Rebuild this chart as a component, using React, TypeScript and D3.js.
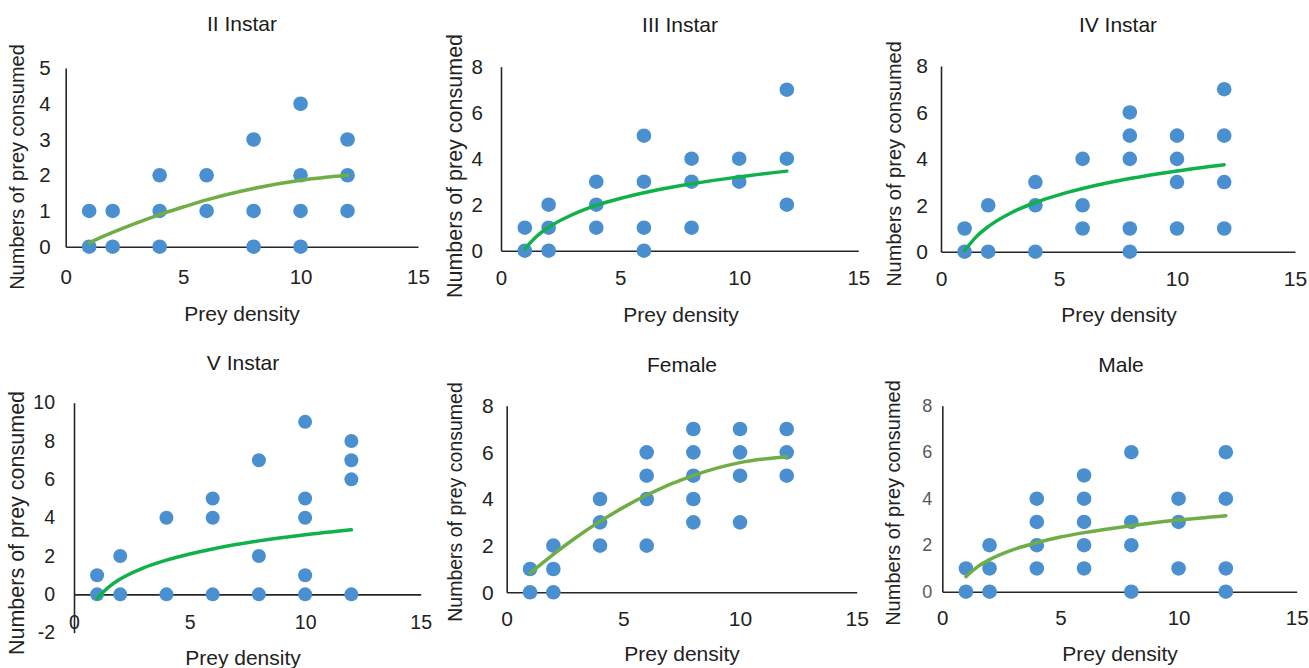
import React, { useEffect, useRef } from 'react';
import * as d3 from 'd3';

// prey offered per replicate group
const densities = [1, 2, 4, 6, 8, 10, 12];

// prey consumed, one inner list per density (distinct values visible)
const instar2 = [[1, 0], [1, 0], [2, 1, 0], [2, 1], [3, 1, 0], [4, 2, 1, 0], [3, 2, 1]];
const instar3 = [[1, 0], [2, 1, 0], [3, 2, 1], [5, 3, 1, 0], [4, 3, 1], [4, 3], [7, 4, 2]];
const instar4 = [[1, 0], [2, 0], [3, 2, 0], [4, 2, 1], [6, 5, 4, 1, 0], [5, 4, 3, 1], [7, 5, 3, 1]];
const instar5 = [[1, 0], [2, 0], [4, 0], [5, 4, 0], [7, 2, 0], [9, 5, 4, 1, 0], [8, 7, 6, 0]];
const female = [[1, 0], [2, 1, 0], [4, 3, 2], [6, 5, 4, 2], [7, 6, 5, 4, 3], [7, 6, 5, 3], [7, 6, 5]];
const male = [[1, 0], [2, 1, 0], [4, 3, 2, 1], [5, 4, 3, 2, 1], [6, 3, 2, 0], [4, 3, 1], [6, 4, 1, 0]];

// trend line
const trendX = [1, 1.5, 2, 3, 4, 5, 6, 8, 10, 12];
const trend2 = [0.11, 0.26, 0.4, 0.66, 0.9, 1.11, 1.31, 1.63, 1.86, 2.0];
const trend3 = [0.08, 0.63, 1.02, 1.57, 1.97, 2.27, 2.52, 2.91, 3.21, 3.46];
const trend4 = [0.05, 0.65, 1.08, 1.69, 2.12, 2.45, 2.72, 3.15, 3.48, 3.75];
const trend5 = [-0.2, 0.38, 0.8, 1.38, 1.79, 2.11, 2.37, 2.79, 3.11, 3.37];
const trendF = [0.81, 1.23, 1.63, 2.37, 3.04, 3.64, 4.17, 5.01, 5.56, 5.81];
const trendM = [0.65, 1.08, 1.38, 1.81, 2.11, 2.35, 2.54, 2.84, 3.08, 3.27];

const titles = ['II Instar', 'III Instar', 'IV Instar', 'V Instar', 'Female', 'Male'];
const xTicks = [0, 5, 10, 15];
const yTicks5 = [0, 1, 2, 3, 4, 5];
const yTicks8 = [0, 2, 4, 6, 8];
const yTicks10 = [-2, 0, 2, 4, 6, 8, 10];

const BLUE = '#4a90d0';
const LIGHT_GREEN = '#6fae45';
const GREEN = '#10b14b';
const FONT = '"Liberation Sans", Arial, sans-serif';

const panels = [
  { title: titles[0], data: instar2, trend: trend2, green: LIGHT_GREEN, yDomain: [0, 5], yTicks: yTicks5,
    x0: 65.7, x1: 418, yBot: 246.7, yTop: 68, titleX: 242, titleY: 23, xtX: 242, xtY: 313, ytX: 17, ytY: 167, ytSize: 20,
    tick: 20.5, yTickColor: '#222', yTickGap: 15, xTickOff: 30, r: 7.3 },
  { title: titles[1], data: instar3, trend: trend3, green: GREEN, yDomain: [0, 8], yTicks: yTicks8,
    x0: 501, x1: 858.3, yBot: 250.7, yTop: 66.7, titleX: 680, titleY: 24, xtX: 681, xtY: 314, ytX: 455, ytY: 166, ytSize: 21.5,
    tick: 20.5, yTickColor: '#222', yTickGap: 18, xTickOff: 27.5, r: 7.3 },
  { title: titles[2], data: instar4, trend: trend4, green: GREEN, yDomain: [0, 8], yTicks: yTicks8,
    x0: 941, x1: 1295, yBot: 251.7, yTop: 66, titleX: 1118, titleY: 24, xtX: 1119, xtY: 314, ytX: 894, ytY: 164, ytSize: 20,
    tick: 21, yTickColor: '#222', yTickGap: 13, xTickOff: 27, r: 7.3 },
  { title: titles[3], data: instar5, trend: trend5, green: GREEN, yDomain: [-2, 10], yTicks: yTicks10,
    x0: 74, x1: 420.7, yBot: 632.7, yTop: 402.7, titleX: 243, titleY: 362, xtX: 243, xtY: 657, ytX: 17, ytY: 523, ytSize: 21.5,
    tick: 19.5, yTickColor: '#222', yTickGap: 19, xTickOff: 28, r: 7 },
  { title: titles[4], data: female, trend: trendF, green: LIGHT_GREEN, yDomain: [0, 8], yTicks: yTicks8,
    x0: 506.7, x1: 856.7, yBot: 592.3, yTop: 405.7, titleX: 682, titleY: 364, xtX: 682, xtY: 653, ytX: 455, ytY: 502, ytSize: 19.5,
    tick: 21, yTickColor: '#222', yTickGap: 13, xTickOff: 26, r: 7.3 },
  { title: titles[5], data: male, trend: trendM, green: LIGHT_GREEN, yDomain: [0, 8], yTicks: yTicks8,
    x0: 942.3, x1: 1296.7, yBot: 591.7, yTop: 405.7, titleX: 1121, titleY: 364, xtX: 1120, xtY: 653, ytX: 893, ytY: 503, ytSize: 20,
    tick: 20.5, yTick: 18, yTickColor: '#595959', yTickGap: 10, xTickOff: 26.5, r: 7.3 },
];

function Panel({ p }) {
  const ref = useRef(null);

  useEffect(() => {
    const g = d3.select(ref.current);
    g.selectAll('*').remove();

    const x = d3.scaleLinear().domain([0, 15]).range([p.x0, p.x1]);
    const y = d3.scaleLinear().domain(p.yDomain).range([p.yBot, p.yTop]);
    const fmt = (d) => String(d);

    // x axis sits at y = 0
    const xAxis = g
      .append('g')
      .attr('transform', `translate(0,${y(0)})`)
      .call(d3.axisBottom(x).tickValues(xTicks).tickFormat(fmt).tickSize(0).tickSizeOuter(0));
    xAxis.select('.domain').attr('stroke', '#262626').attr('stroke-width', 1.6);
    xAxis
      .selectAll('text')
      .attr('y', p.xTickOff)
      .attr('dy', '0.35em')
      .attr('font-family', FONT)
      .attr('font-size', p.tick)
      .attr('fill', '#222');

    const yAxis = g
      .append('g')
      .attr('transform', `translate(${p.x0},0)`)
      .call(d3.axisLeft(y).tickValues(p.yTicks).tickFormat(fmt).tickSize(0).tickSizeOuter(0).tickPadding(p.yTickGap));
    yAxis.select('.domain').attr('stroke', '#262626').attr('stroke-width', 1.6);
    yAxis
      .selectAll('text')
      .attr('font-family', FONT)
      .attr('font-size', p.yTick || p.tick)
      .attr('fill', p.yTickColor);

    const pts = [];
    p.data.forEach((vals, i) => vals.forEach((v) => pts.push([densities[i], v])));

    g.append('g')
      .selectAll('circle')
      .data(pts)
      .join('circle')
      .attr('cx', (d) => x(d[0]))
      .attr('cy', (d) => y(d[1]))
      .attr('r', p.r)
      .attr('fill', BLUE);

    const line = d3
      .line()
      .x((d) => x(d[0]))
      .y((d) => y(d[1]))
      .curve(d3.curveMonotoneX);

    g.append('path')
      .datum(trendX.map((t, i) => [t, p.trend[i]]))
      .attr('d', line)
      .attr('fill', 'none')
      .attr('stroke', p.green)
      .attr('stroke-width', 3.5)
      .attr('stroke-linecap', 'round');

    g.append('text')
      .attr('x', p.titleX)
      .attr('y', p.titleY)
      .attr('text-anchor', 'middle')
      .attr('dominant-baseline', 'central')
      .attr('font-family', FONT)
      .attr('font-size', 21)
      .attr('fill', '#1a1a1a')
      .text(p.title);

    g.append('text')
      .attr('x', p.xtX)
      .attr('y', p.xtY)
      .attr('text-anchor', 'middle')
      .attr('dominant-baseline', 'central')
      .attr('font-family', FONT)
      .attr('font-size', 21)
      .attr('fill', '#222')
      .text('Prey density');

    g.append('text')
      .attr('transform', `translate(${p.ytX},${p.ytY}) rotate(-90)`)
      .attr('text-anchor', 'middle')
      .attr('dominant-baseline', 'central')
      .attr('font-family', FONT)
      .attr('font-size', p.ytSize)
      .attr('fill', '#222')
      .text('Numbers of prey consumed');
  }, [p]);

  return <g ref={ref}></g>;
}

export default function App() {
  return (
    <svg
      width={1309}
      height={668}
      style={{ position: 'absolute', left: 0, top: 0, background: '#fff' }}
    >
      {panels.map((p) => (
        <Panel key={p.title} p={p} />
      ))}
    </svg>
  );
}
